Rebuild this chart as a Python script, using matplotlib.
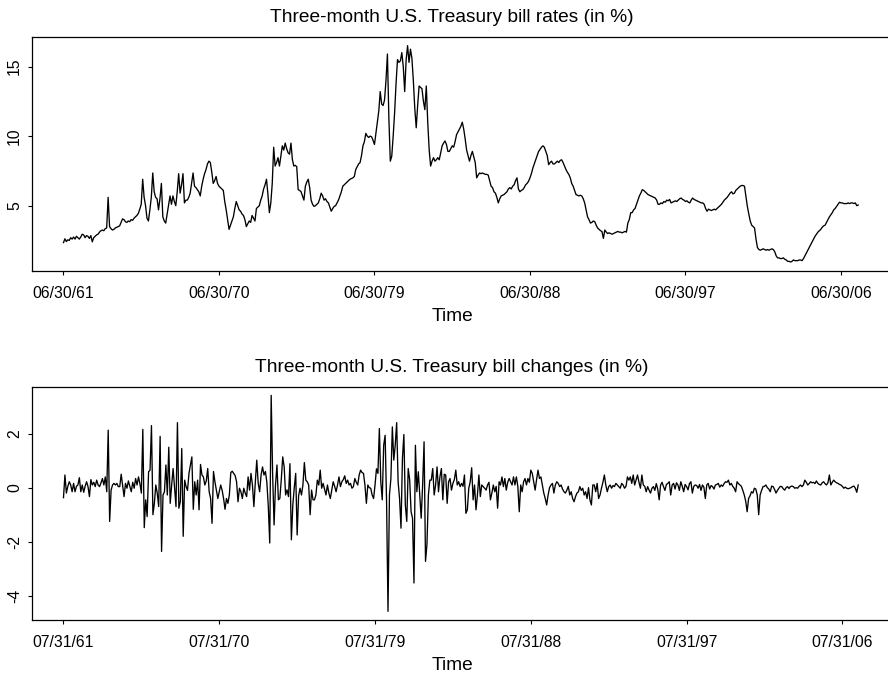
import matplotlib
matplotlib.use('Agg')
import matplotlib.pyplot as plt
import numpy as np

plt.rcParams['font.family'] = ['Liberation Sans', 'DejaVu Sans']
plt.rcParams['axes.unicode_minus'] = False

# === Data (monthly) ===
# 3-month T-bill rate, 06/1961 .. 06/2007
rates = [
    2.35, 2.62, 2.42, 2.55, 2.50, 2.70, 2.60, 2.75, 2.60, 2.80, 2.70, 2.60,
    2.75, 2.95, 2.90, 2.70, 2.85, 2.80, 2.65, 2.85, 2.40, 2.70, 2.80, 2.90,
    2.95, 3.10, 3.20, 3.25, 3.20, 3.35, 3.40, 5.60, 3.50, 3.35, 3.25, 3.30,
    3.40, 3.45, 3.50, 3.55, 3.80, 4.05, 4.00, 3.85, 3.80, 3.90, 3.85, 4.00,
    3.95, 4.10, 4.20, 4.30, 4.45, 4.75, 5.10, 6.90, 5.60, 5.00, 4.10, 3.90,
    4.70, 5.60, 7.35, 6.00, 5.60, 5.50, 4.70, 5.50, 6.60, 4.20, 3.90, 3.75,
    4.40, 5.00, 5.70, 5.10, 5.70, 5.30, 5.00, 6.00, 7.30, 5.90, 6.50, 7.30,
    5.20, 5.40, 5.40, 5.60, 5.90, 6.60, 7.35, 6.40, 6.30, 6.15, 6.00, 5.70,
    6.40, 6.90, 7.30, 7.60, 8.00, 8.20, 8.10, 7.40, 6.60, 6.80, 7.10, 6.60,
    6.40, 6.30, 6.20, 6.10, 5.30, 4.70, 4.00, 3.30, 3.60, 3.90, 4.20, 4.80,
    5.30, 5.00, 4.70, 4.60, 4.40, 4.30, 4.00, 3.50, 3.70, 3.90, 3.80, 4.30,
    4.10, 3.90, 4.80, 4.90, 5.00, 5.40, 5.70, 6.20, 6.50, 6.90, 5.80, 4.50,
    5.20, 6.60, 9.20, 7.85, 8.10, 8.45, 7.85, 8.60, 9.30, 9.00, 9.50, 9.10,
    8.80, 8.70, 9.50, 8.30, 7.85, 7.90, 7.80, 6.15, 6.10, 6.00, 5.70, 5.40,
    6.40, 6.70, 6.90, 6.30, 5.40, 5.10, 4.95, 5.00, 5.10, 5.20, 5.50, 5.90,
    5.70, 5.40, 5.50, 5.30, 5.20, 4.90, 4.60, 4.80, 4.95, 5.00, 5.20, 5.40,
    5.70, 6.00, 6.40, 6.50, 6.60, 6.70, 6.80, 6.90, 6.95, 7.00, 7.10, 7.60,
    7.80, 8.00, 8.10, 8.60, 9.30, 9.60, 10.20, 10.00, 9.90, 10.00, 9.95, 9.70,
    9.40, 10.20, 11.00, 11.80, 13.20, 12.30, 12.20, 12.60, 14.00, 15.90, 11.30, 8.20,
    8.55, 10.00, 11.70, 13.80, 15.50, 15.30, 15.40, 16.00, 15.00, 13.20, 15.50, 16.50,
    15.30, 16.25, 15.60, 14.00, 12.00, 10.60, 12.20, 13.60, 13.50, 13.40, 12.50, 11.90,
    13.60, 11.00, 9.00, 7.85, 8.20, 8.45, 8.20, 8.30, 8.45, 8.30, 8.80, 9.30,
    9.50, 9.65, 9.40, 8.90, 8.90, 9.10, 9.30, 9.20, 9.60, 10.10, 10.30, 10.50,
    10.70, 11.00, 10.50, 9.80, 9.00, 8.60, 8.20, 8.60, 8.90, 8.50, 8.10, 7.00,
    7.20, 7.35, 7.30, 7.35, 7.30, 7.25, 7.25, 7.20, 6.80, 6.40, 6.30, 6.00,
    5.90, 5.60, 5.20, 5.50, 5.70, 5.75, 5.80, 5.90, 6.00, 6.20, 6.30, 6.20,
    6.40, 6.50, 6.80, 7.00, 6.20, 6.00, 6.10, 6.15, 6.30, 6.50, 6.60, 6.75,
    7.00, 7.30, 7.70, 8.00, 8.30, 8.60, 8.90, 9.05, 9.20, 9.30, 9.20, 8.90,
    8.60, 7.95, 8.10, 8.20, 8.00, 8.00, 8.10, 8.20, 8.10, 8.25, 8.30, 8.10,
    7.85, 7.60, 7.40, 7.25, 7.00, 6.60, 6.40, 6.10, 5.80, 5.75, 5.70, 5.75,
    5.70, 5.50, 5.20, 4.70, 4.20, 4.00, 3.75, 3.80, 3.90, 3.85, 3.60, 3.40,
    3.30, 3.20, 3.15, 2.65, 3.25, 3.10, 3.00, 3.05, 3.00, 2.95, 3.00, 3.05,
    3.10, 3.15, 3.10, 3.10, 3.05, 3.10, 3.15, 3.10, 3.75, 4.00, 4.50, 4.50,
    4.70, 4.80, 5.10, 5.40, 5.70, 5.90, 6.15, 6.10, 6.00, 5.90, 5.80, 5.75,
    5.70, 5.65, 5.60, 5.55, 5.40, 5.10, 5.10, 5.20, 5.15, 5.30, 5.25, 5.40,
    5.35, 5.45, 5.20, 5.25, 5.30, 5.35, 5.30, 5.40, 5.50, 5.55, 5.45, 5.40,
    5.30, 5.35, 5.25, 5.20, 5.40, 5.55, 5.45, 5.40, 5.35, 5.30, 5.25, 5.20,
    5.20, 5.10, 4.80, 4.60, 4.75, 4.70, 4.65, 4.70, 4.75, 4.70, 4.80, 4.90,
    5.00, 5.10, 5.25, 5.40, 5.50, 5.60, 5.75, 5.90, 6.00, 5.85, 5.90, 6.10,
    6.20, 6.30, 6.40, 6.45, 6.45, 6.40, 5.70, 4.95, 4.40, 3.90, 3.60, 3.50,
    3.40, 2.60, 2.00, 1.85, 1.80, 1.85, 1.90, 1.85, 1.80, 1.85, 1.80, 1.85,
    1.90, 1.85, 1.70, 1.40, 1.25, 1.25, 1.20, 1.20, 1.25, 1.15, 1.10, 1.00,
    1.00, 0.95, 1.00, 1.10, 1.05, 1.05, 1.05, 1.10, 1.10, 1.05, 1.20, 1.40,
    1.60, 1.80, 2.00, 2.20, 2.40, 2.60, 2.80, 2.95, 3.10, 3.20, 3.30, 3.45,
    3.55, 3.60, 3.80, 4.00, 4.20, 4.35, 4.50, 4.70, 4.80, 4.95, 5.10, 5.25,
    5.20, 5.20, 5.15, 5.15, 5.15, 5.20, 5.15, 5.20, 5.20, 5.15, 5.20, 5.00,
    5.05,
]

# monthly changes, 07/1961 .. 06/2007
changes = [
    -0.37, 0.47, -0.20, 0.05, 0.22, 0.10, -0.15, 0.16, -0.15, 0.05, 0.10, 0.37,
    -0.15, 0.10, -0.17, 0.05, 0.22, 0.04, -0.33, 0.30, 0.10, 0.20, 0.04, 0.28,
    0.10, 0.04, 0.18, 0.34, 0.10, 0.40, -0.15, 2.13, -1.25, -0.09, 0.10, 0.16,
    0.10, 0.16, 0.04, 0.04, 0.50, 0.10, -0.33, 0.16, -0.02, 0.25, 0.05, -0.15,
    0.20, -0.02, 0.34, 0.10, 0.40, 0.15, -0.20, 2.16, -1.48, -0.45, -1.07, 0.59,
    0.65, 2.30, -1.00, -0.58, 0.10, -0.20, -0.70, 1.90, -2.36, -0.27, -0.15, 0.84,
    -0.27, 1.50, -0.58, 0.10, 0.71, -0.02, -0.70, 2.41, -0.76, -0.52, 1.45, -1.80,
    0.28, 0.04, -0.10, 0.53, 0.84, 1.14, -0.80, 0.22, -0.27, 0.28, -0.82, 0.86,
    0.47, 0.40, 0.10, 0.25, 0.71, -0.15, -0.40, -1.32, 0.60, 0.22, -0.10, -0.40,
    -0.15, 0.10, -0.10, -0.40, -0.80, -0.40, -0.58, -0.27, 0.56, 0.61, 0.53, 0.45,
    0.22, -0.52, -0.02, -0.15, -0.40, -0.02, -0.20, -0.33, 0.40, -0.09, 0.53, 0.10,
    -0.70, 0.20, 1.02, 0.16, -0.15, 0.47, 0.77, 0.47, 0.60, 0.20, -0.70, -2.05,
    3.42, 0.50, -1.38, 0.10, 0.84, -0.45, -0.40, 0.30, 1.14, 0.77, -0.27, -0.08,
    -0.33, 0.89, -1.93, -0.64, 0.00, 0.53, -1.75, -0.30, -0.02, -0.27, 0.10, 0.93,
    0.28, 0.22, 0.10, -1.00, -0.09, -0.45, -0.45, -0.27, 0.28, 0.10, 0.65, -0.02,
    0.16, -0.05, -0.27, 0.10, -0.20, -0.40, -0.09, 0.22, 0.05, -0.15, 0.10, 0.40,
    0.04, 0.22, 0.30, 0.44, 0.16, 0.28, 0.10, 0.16, -0.02, 0.04, 0.34, 0.20,
    0.10, 0.47, 0.65, 0.56, 0.53, 0.10, -0.58, 0.10, 0.00, -0.02, -0.27, -0.40,
    0.10, 0.70, 0.53, 2.19, 0.22, -0.45, 1.57, 1.94, -0.52, -4.58, -0.27, 0.34,
    2.25, 1.02, 1.57, 2.41, 0.22, -0.40, -1.50, 1.08, 1.97, -0.64, -1.25, 0.71,
    0.30, -0.89, -1.13, -3.53, 1.57, -0.15, 0.59, -0.30, -1.13, 0.10, 1.70, -2.73,
    -2.10, -0.27, 0.28, 0.28, 0.71, -0.27, 0.10, 0.77, -0.15, 0.40, 0.71, -0.45,
    0.50, 0.47, -0.58, 0.22, 0.34, -0.09, 0.16, 0.30, 0.65, 0.10, 0.22, 0.04,
    0.16, 0.05, 0.47, -0.95, -0.82, -0.02, 0.22, 0.74, -0.45, 0.10, -0.82, -0.27,
    0.47, -0.33, 0.10, 0.04, -0.02, -0.09, 0.10, 0.20, -0.45, -0.20, 0.10, -0.15,
    0.05, -0.76, 0.22, 0.10, 0.40, 0.04, 0.34, -0.09, 0.20, 0.34, 0.22, 0.10,
    0.40, 0.10, 0.40, 0.05, -0.89, 0.10, -0.15, 0.22, 0.34, 0.10, 0.34, 0.20,
    0.65, 0.53, 0.22, -0.09, 0.30, 0.65, 0.34, 0.40, 0.10, -0.20, -0.40, -0.64,
    -0.27, 0.00, 0.10, 0.16, -0.20, 0.10, 0.22, 0.16, 0.04, 0.10, -0.05, -0.15,
    -0.20, -0.09, 0.05, -0.27, -0.15, -0.40, -0.52, -0.33, -0.20, -0.15, 0.04, -0.10,
    -0.02, -0.27, -0.15, -0.40, 0.00, -0.45, -0.64, 0.10, 0.10, -0.15, 0.16, -0.40,
    -0.27, -0.02, 0.20, 0.47, 0.10, -0.15, 0.04, 0.10, -0.02, 0.08, 0.04, 0.16,
    0.10, 0.04, -0.02, 0.16, 0.10, -0.02, 0.05, 0.40, 0.28, 0.40, 0.16, 0.47,
    0.10, 0.28, 0.47, 0.20, -0.02, 0.47, 0.10, 0.05, -0.15, 0.04, -0.09, -0.20,
    -0.02, 0.04, -0.10, 0.15, -0.05, -0.45, 0.10, 0.20, 0.04, -0.10, 0.12, 0.16,
    0.22, -0.27, 0.10, 0.16, -0.05, 0.18, 0.10, -0.10, 0.22, 0.05, -0.15, 0.12,
    0.04, -0.08, 0.15, 0.22, -0.20, 0.05, 0.10, 0.08, -0.02, 0.12, -0.10, 0.10,
    0.02, -0.40, 0.10, 0.16, -0.05, 0.08, 0.04, -0.05, 0.10, 0.12, 0.16, 0.02,
    0.10, 0.05, 0.15, 0.22, 0.20, 0.28, 0.10, 0.16, 0.05, -0.02, -0.15, 0.22,
    0.15, 0.10, 0.05, -0.10, -0.27, -0.50, -0.89, -0.40, -0.30, -0.15, -0.20, -0.02,
    -0.05, -0.27, -1.00, -0.27, -0.10, 0.04, 0.05, 0.10, 0.00, -0.05, -0.15, 0.06,
    0.04, -0.06, -0.20, -0.10, -0.02, 0.05, 0.04, -0.04, -0.09, 0.00, 0.04, -0.03,
    0.04, 0.06, 0.04, -0.02, 0.00, -0.02, 0.05, 0.10, 0.04, 0.10, 0.28, 0.20,
    0.10, 0.15, 0.22, 0.18, 0.20, 0.15, 0.25, 0.16, 0.12, 0.10, 0.18, 0.22,
    0.15, 0.10, 0.18, 0.47, 0.10, 0.20, 0.28, 0.22, 0.18, 0.16, 0.12, 0.10,
    0.05, -0.02, 0.02, -0.02, -0.04, -0.02, 0.00, 0.04, 0.06, -0.02, -0.17, 0.10,
]

tick_pos = [0, 108, 216, 324, 432, 540]
rate_tick_labels = ["06/30/61", "06/30/70", "06/30/79", "06/30/88", "06/30/97", "06/30/06"]
change_tick_labels = ["07/31/61", "07/31/70", "07/31/79", "07/31/88", "07/31/97", "07/31/06"]
rate_yticks = [5, 10, 15]
change_yticks = [-4, -2, 0, 2]

W, H = 888, 678


def r_range(lo, hi):
    # R style 4% padding
    pad = 0.04 * (hi - lo)
    return lo - pad, hi + pad


def draw_panel(top_px, bottom_px, values, xlabels, yticks, title):
    ax = fig.add_axes([31.7 / W, 1 - bottom_px / H, (890 - 31.7) / W, (bottom_px - top_px) / H])
    x = np.arange(len(values))
    ax.plot(x, values, color='black', lw=0.95)
    ax.set_xlim(r_range(0, len(values) - 1))
    ax.set_ylim(r_range(min(values), max(values)))
    ax.set_xticks(tick_pos)
    ax.set_xticklabels(xlabels)
    ax.set_yticks(yticks)
    ax.set_yticklabels([str(v) for v in yticks], rotation=90, va='center')
    ax.tick_params(axis='x', direction='out', length=3, width=0.8, labelsize=11.3, pad=8)
    ax.tick_params(axis='y', direction='out', length=3, width=0.8, labelsize=11.3, pad=4)
    for s in ax.spines.values():
        s.set_linewidth(0.9)
    ax.spines['right'].set_visible(False)
    fig.text(452 / W, 1 - (top_px - 19.5) / H, title, ha='center', va='center', fontsize=13.8)
    fig.text(452 / W, 1 - (bottom_px + 46) / H, "Time", ha='center', va='center', fontsize=13.8)
    return ax


fig = plt.figure(figsize=(8.88, 6.78), dpi=100)
draw_panel(37, 270.7, rates, rate_tick_labels, rate_yticks,
           "Three-month U.S. Treasury bill rates (in %)")
draw_panel(386.7, 620, changes, change_tick_labels, change_yticks,
           "Three-month U.S. Treasury bill changes (in %)")

fig.savefig("out.png", dpi=100)
